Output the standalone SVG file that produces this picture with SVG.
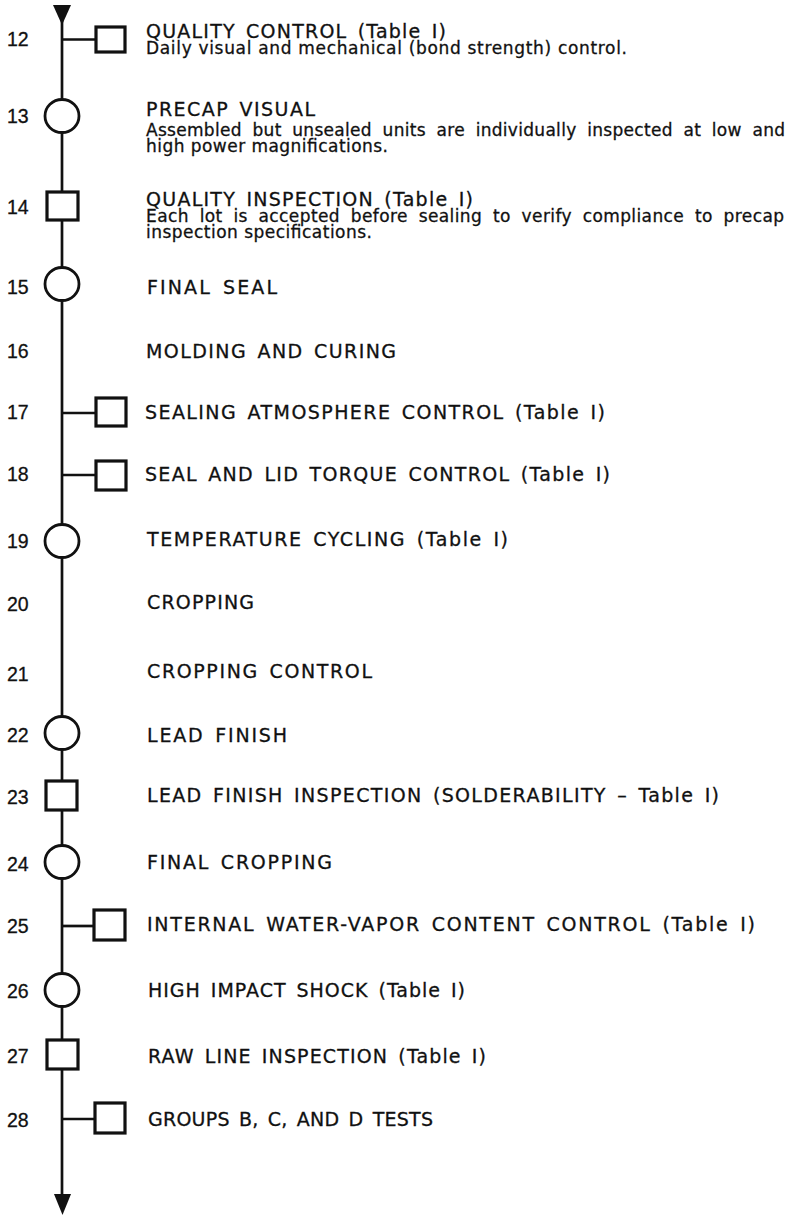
<svg xmlns="http://www.w3.org/2000/svg" width="797" height="1218" viewBox="0 0 797 1218">
<style>
  .bg{fill:#ffffff}
  .ln{stroke:#111;stroke-width:2.7;fill:none}
  .ah{fill:#111;stroke:none}
  .c{fill:#fff;stroke:#111;stroke-width:2.8}
  .s{fill:#fff;stroke:#111;stroke-width:3.2}
  text{font-family:"DejaVu Sans","Liberation Sans",Arial,sans-serif;font-size:19px;fill:#111;stroke:#111;stroke-width:0.3}
  .num{font-family:"Liberation Sans",Arial,sans-serif;font-size:19.5px}
  .cap{word-spacing:3px}
  .body{font-size:17px;word-spacing:0}
  .just{font-size:17px;word-spacing:5px}
</style>
<rect class="bg" x="0" y="0" width="797" height="1218"/>
<g id="connectors">
  <line class="ln" x1="62" y1="6" x2="62" y2="1205"/>
  <polygon class="ah" points="53,5 71,5 62,25"/>
  <polygon class="ah" points="54,1194 71,1194 62.5,1215"/>
  <line class="ln" x1="62" y1="39.5" x2="96" y2="39.5"/>
  <line class="ln" x1="62" y1="413" x2="96" y2="413"/>
  <line class="ln" x1="62" y1="475" x2="96" y2="475"/>
  <line class="ln" x1="62" y1="926" x2="94" y2="926"/>
  <line class="ln" x1="62" y1="1119" x2="95" y2="1119"/>
</g>
<g id="step12">
  <rect class="s" x="96" y="27" width="29" height="25"/>
  <text class="num" x="7" y="46">12</text>
  <text class="cap"><tspan x="146" y="38" textLength="300" lengthAdjust="spacing">QUALITY CONTROL (Table I)</tspan><tspan class="body" x="146" y="54" textLength="481" lengthAdjust="spacing">Daily visual and mechanical (bond strength) control.</tspan></text>
</g>
<g id="step13">
  <ellipse class="c" cx="62" cy="116" rx="17" ry="16.5"/>
  <text class="num" x="7" y="123">13</text>
  <text class="cap"><tspan x="146" y="116" textLength="169" lengthAdjust="spacing">PRECAP VISUAL</tspan><tspan class="just" x="146" y="136" textLength="639" lengthAdjust="spacing">Assembled but unsealed units are individually inspected at low and</tspan><tspan class="body" x="146" y="152" textLength="242" lengthAdjust="spacing">high power magnifications.</tspan></text>
</g>
<g id="step14">
  <rect class="s" x="47" y="192" width="31" height="28"/>
  <text class="num" x="7" y="214">14</text>
  <text class="cap"><tspan x="146" y="206" textLength="327" lengthAdjust="spacing">QUALITY INSPECTION (Table I)</tspan><tspan class="just" x="146" y="222" textLength="638" lengthAdjust="spacing">Each lot is accepted before sealing to verify compliance to precap</tspan><tspan class="body" x="146" y="238" textLength="226" lengthAdjust="spacing">inspection specifications.</tspan></text>
</g>
<g id="step15">
  <ellipse class="c" cx="62" cy="284" rx="17" ry="16.5"/>
  <text class="num" x="7" y="294">15</text>
  <text class="cap" x="147" y="294" textLength="130" lengthAdjust="spacing">FINAL SEAL</text>
</g>
<g id="step16">
  <text class="num" x="7" y="358">16</text>
  <text class="cap" x="146" y="358" textLength="250" lengthAdjust="spacing">MOLDING AND CURING</text>
</g>
<g id="step17">
  <rect class="s" x="96" y="398" width="30" height="28"/>
  <text class="num" x="7" y="419">17</text>
  <text class="cap" x="145" y="419" textLength="460" lengthAdjust="spacing">SEALING ATMOSPHERE CONTROL (Table I)</text>
</g>
<g id="step18">
  <rect class="s" x="96" y="461" width="30" height="29"/>
  <text class="num" x="7" y="481">18</text>
  <text class="cap" x="145" y="481" textLength="465" lengthAdjust="spacing">SEAL AND LID TORQUE CONTROL (Table I)</text>
</g>
<g id="step19">
  <ellipse class="c" cx="62" cy="541" rx="17" ry="16.5"/>
  <text class="num" x="7" y="548">19</text>
  <text class="cap" x="147" y="546" textLength="361" lengthAdjust="spacing">TEMPERATURE CYCLING (Table I)</text>
</g>
<g id="step20">
  <text class="num" x="7" y="611">20</text>
  <text class="cap" x="147" y="609" textLength="107" lengthAdjust="spacing">CROPPING</text>
</g>
<g id="step21">
  <text class="num" x="7" y="681">21</text>
  <text class="cap" x="147" y="678" textLength="225" lengthAdjust="spacing">CROPPING CONTROL</text>
</g>
<g id="step22">
  <ellipse class="c" cx="62" cy="733" rx="17" ry="16.5"/>
  <text class="num" x="7" y="742">22</text>
  <text class="cap" x="147" y="742" textLength="140" lengthAdjust="spacing">LEAD FINISH</text>
</g>
<g id="step23">
  <rect class="s" x="46" y="781" width="31" height="29"/>
  <text class="num" x="7" y="804">23</text>
  <text class="cap" x="147" y="802" textLength="572" lengthAdjust="spacing">LEAD FINISH INSPECTION (SOLDERABILITY – Table I)</text>
</g>
<g id="step24">
  <ellipse class="c" cx="62" cy="862" rx="17" ry="16.5"/>
  <text class="num" x="7" y="871">24</text>
  <text class="cap" x="147" y="869" textLength="185" lengthAdjust="spacing">FINAL CROPPING</text>
</g>
<g id="step25">
  <rect class="s" x="94" y="910" width="31" height="30"/>
  <text class="num" x="7" y="933">25</text>
  <text class="cap" x="147" y="931" textLength="608" lengthAdjust="spacing">INTERNAL WATER-VAPOR CONTENT CONTROL (Table I)</text>
</g>
<g id="step26">
  <ellipse class="c" cx="62" cy="990" rx="17" ry="16.5"/>
  <text class="num" x="7" y="998">26</text>
  <text class="cap" x="148" y="997" textLength="317" lengthAdjust="spacing">HIGH IMPACT SHOCK (Table I)</text>
</g>
<g id="step27">
  <rect class="s" x="47" y="1040" width="31" height="29"/>
  <text class="num" x="7" y="1063">27</text>
  <text class="cap" x="148" y="1063" textLength="338" lengthAdjust="spacing">RAW LINE INSPECTION (Table I)</text>
</g>
<g id="step28">
  <rect class="s" x="95" y="1103" width="30" height="30"/>
  <text class="num" x="7" y="1127">28</text>
  <text class="cap" x="148" y="1126" textLength="285" lengthAdjust="spacing">GROUPS B, C, AND D TESTS</text>
</g>
</svg>
